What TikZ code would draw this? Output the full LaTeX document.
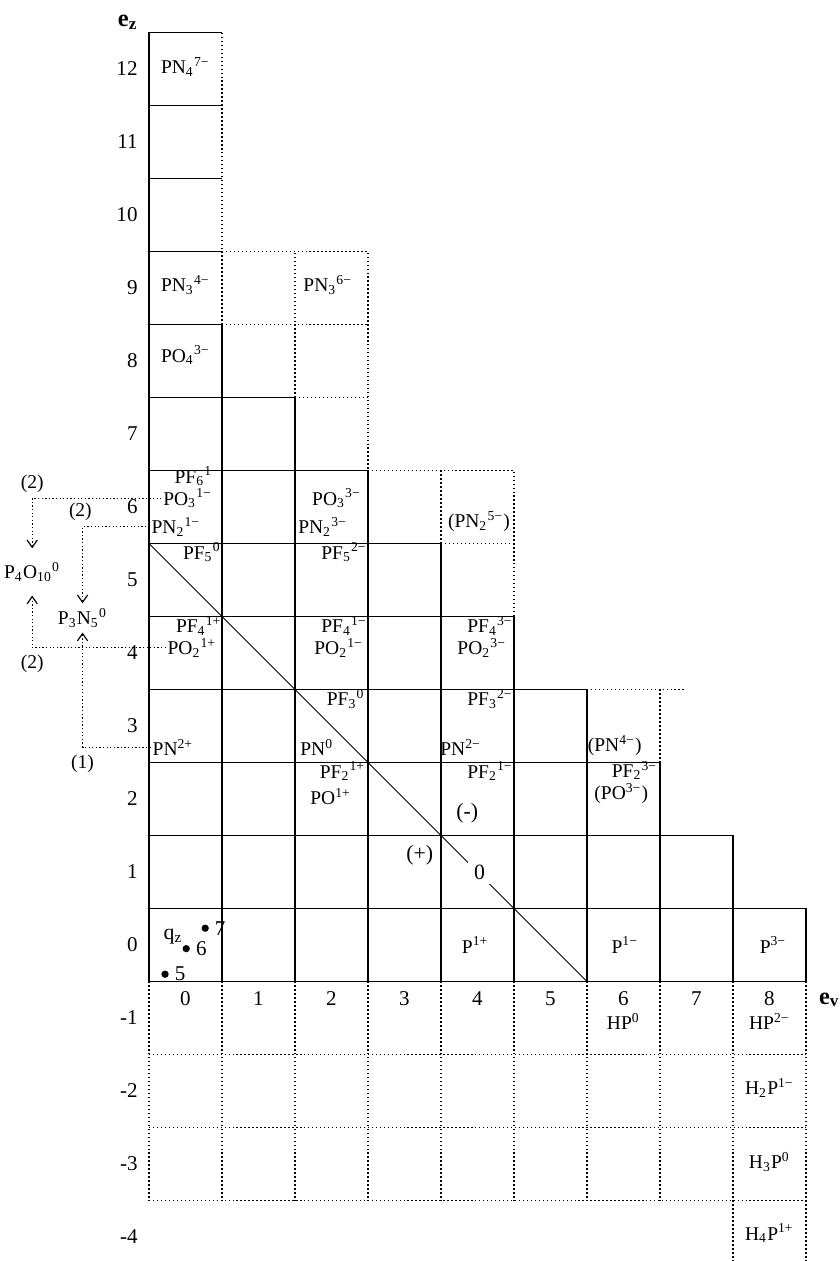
\documentclass[tikz,border=0pt]{standalone}
\usepackage{fontspec}
\setmainfont{Liberation Serif}
\usetikzlibrary{arrows.meta, positioning}

\begin{document}
\begin{tikzpicture}[
  >={Straight Barb[length=1mm,width=1.4mm]},
  % grid line styles
  cell/.style={line width=0.5pt},
  open/.style={line width=0.5pt, dash pattern=on 0.55pt off 1pt},
  link/.style={line width=0.45pt, dash pattern=on 0.5pt off 0.9pt, ->},
  % text styles
  ion/.style={font=\fontsize{7.6}{8}\selectfont, inner sep=0.5pt},
  ionr/.style={ion, anchor=east},
  route/.style={font=\fontsize{7.6}{8}\selectfont, inner sep=1pt},
  tick/.style={font=\fontsize{8.2}{9}\selectfont, inner sep=0pt},
  axis/.style={font=\fontsize{9.5}{10}\selectfont\bfseries, inner sep=0pt},
  sign/.style={font=\fontsize{8.5}{9}\selectfont, inner sep=0pt},
  dot/.style={circle, fill=black, inner sep=0pt, minimum size=1mm}
]
\useasboundingbox (-2.541,-4.329) rectangle (8.966,12.945);

% Solid staircase of cells
\foreach \i in {0,...,8}
  \draw[cell] (\i+0.5,-0.5) -- (\i+0.5,8.5-\i);
\foreach \j in {0,...,7}
  \draw[cell] (-0.5,\j+0.5) -- (8.5-\j,\j+0.5);
\foreach \j in {8,...,12}
  \draw[cell] (-0.5,\j+0.5) -- (0.5,\j+0.5);
\draw[cell] (-0.5,-0.5) -- (-0.5,12.5);
\draw[cell] (-0.5,-0.5) -- (8.5,-0.5);

% Dotted (open) cells
\draw[open] (0.5,8.5) -- (0.5,12.5);
\draw[open] (0.5,9.5) -- (2.5,9.5) -- (2.5,6.5);
\draw[open] (0.5,8.5) -- (2.5,8.5);
\draw[open] (1.5,7.5) -- (1.5,9.5);
\draw[open] (1.5,7.5) -- (2.5,7.5);
\draw[open] (2.5,6.5) -- (4.5,6.5) -- (4.5,4.5);
\draw[open] (3.5,5.5) -- (3.5,6.5);
\draw[open] (3.5,5.5) -- (4.5,5.5);
\draw[open] (5.5,3.5) -- (6.84,3.5);
\draw[open] (6.5,2.5) -- (6.5,3.5);
\foreach \j in {-1.5,-2.5,-3.5}
  \draw[open] (-0.5,\j) -- (8.5,\j);
\foreach \i in {-0.5,0.5,...,8.5}
  \draw[open] (\i,-0.5) -- (\i,-3.5);
\draw[open] (7.5,-3.5) -- (7.5,-4.33);
\draw[open] (8.5,-3.5) -- (8.5,-4.33);

% Neutral diagonal
\draw[line width=0.4pt] (-0.5,5.5) -- (5.5,-0.5);
\node[sign, fill=white, minimum width=0.32cm, minimum height=0.32cm] (zero) at (4.03,1) {0};
\node[sign] (plus) at (3.21,1.23) {(+)};
\node[sign] (minus) at (3.86,1.81) {(-)};

% Axes
\foreach \k in {-4,...,12}
  \node[tick, anchor=east] (ez\k) at (-0.65,\k) {\k};
\foreach \i in {0,...,8}
  \node[tick] (ev\i) at (\i,-0.74) {\i};
\node[axis] (ezlab) at (-0.79,12.64) {e\textsubscript{z}};
\node[axis] (evlab) at (8.82,-0.75) {e\textsubscript{v}};

% Column 0
\node[ion] (pn4) at (0,12.03) {PN\textsubscript{4}\textsuperscript{7−}};
\node[ion] (pn3a) at (0,9.04) {PN\textsubscript{3}\textsuperscript{4−}};
\node[ion] (po4) at (0,8.08) {PO\textsubscript{4}\textsuperscript{3−}};
\node[ionr] (pf6) at (0.5,6.42) {PF\textsubscript{6}\textsuperscript{1−}};
\node[ion] (po3a) at (0.03,6.12) {PO\textsubscript{3}\textsuperscript{1−}};
\node[ion] (pn2a) at (-0.13,5.73) {PN\textsubscript{2}\textsuperscript{1−}};
\node[ionr] (pf5a) at (0.51,5.38) {PF\textsubscript{5}\textsuperscript{0}};
\node[ionr] (pf4a) at (0.52,4.37) {PF\textsubscript{4}\textsuperscript{1+}};
\node[ion] (po2a) at (0.09,4.07) {PO\textsubscript{2}\textsuperscript{1+}};
\node[ion] (pn2p) at (-0.17,2.71) {PN\textsuperscript{2+}};

% Column 2
\node[ion] (pn3b) at (1.95,9.04) {PN\textsubscript{3}\textsuperscript{6−}};
\node[ion] (po3b) at (2.07,6.12) {PO\textsubscript{3}\textsuperscript{3−}};
\node[ion] (pn2b) at (1.88,5.73) {PN\textsubscript{2}\textsuperscript{3−}};
\node[ionr] (pf5b) at (2.51,5.38) {PF\textsubscript{5}\textsuperscript{2−}};
\node[ionr] (pf4b) at (2.51,4.37) {PF\textsubscript{4}\textsuperscript{1−}};
\node[ion] (po2b) at (2.1,4.07) {PO\textsubscript{2}\textsuperscript{1−}};
\node[ionr] (pf3a) at (2.48,3.37) {PF\textsubscript{3}\textsuperscript{0}};
\node[ion] (pn0) at (1.8,2.71) {PN\textsuperscript{0}};
\node[ionr] (pf2a) at (2.49,2.38) {PF\textsubscript{2}\textsuperscript{1+}};
\node[ion] (po1p) at (1.99,2.03) {PO\textsuperscript{1+}};

% Column 4
\node[ion] (pn2c) at (4.02,5.8) {(PN\textsubscript{2}\textsuperscript{5−})};
\node[ionr] (pf4c) at (4.51,4.37) {PF\textsubscript{4}\textsuperscript{3−}};
\node[ion] (po2c) at (4.06,4.07) {PO\textsubscript{2}\textsuperscript{3−}};
\node[ionr] (pf3b) at (4.51,3.37) {PF\textsubscript{3}\textsuperscript{2−}};
\node[ion] (pn2m) at (3.77,2.71) {PN\textsuperscript{2−}};
\node[ionr] (pf2b) at (4.51,2.38) {PF\textsubscript{2}\textsuperscript{1−}};
\node[ion] (p1p) at (3.97,0) {P\textsuperscript{1+}};

% Column 6 and 8
\node[ion] (pn4m) at (5.88,2.73) {(PN\textsuperscript{4−})};
\node[ionr] (pf2c) at (6.49,2.39) {PF\textsubscript{2}\textsuperscript{3−}};
\node[ion] (po3m) at (5.97,2.07) {(PO\textsuperscript{3−})};
\node[ion] (p1m) at (6.02,0) {P\textsuperscript{1−}};
\node[ion] (hp0) at (6,-1.05) {HP\textsuperscript{0}};
\node[ion] (p3m) at (8.05,0) {P\textsuperscript{3−}};
\node[ion] (hp2m) at (8,-1.05) {HP\textsuperscript{2−}};
\node[ion] (h2p) at (8,-1.96) {H\textsubscript{2}P\textsuperscript{1−}};
\node[ion] (h3p) at (8,-2.97) {H\textsubscript{3}P\textsuperscript{0}};
\node[ion] (h4p) at (8,-3.95) {H\textsubscript{4}P\textsuperscript{1+}};

% q_z points
\node[sign] (qz) at (-0.17,0.11) {q\textsubscript{z}};
\node[dot] (d7) at (0.27,0.23) {};
\node[dot] (d6) at (0.01,-0.05) {};
\node[dot] (d5) at (-0.28,-0.40) {};
\node[tick, right=0.7mm of d7] (n7) {7};
\node[tick, right=0.7mm of d6] (n6) {6};
\node[tick, right=0.7mm of d5] (n5) {5};

% Solids
\node[ion, outer ysep=5pt] (p4o10) at (-2.1,5.11) {P\textsubscript{4}O\textsubscript{10}\textsuperscript{0}};
\node[ion, outer ysep=1.5pt] (p3n5) at (-1.41,4.48) {P\textsubscript{3}N\textsubscript{5}\textsuperscript{0}};

% Condensation routes
\draw[link] (po3a.west) -| (p4o10.north);
\draw[link] (pn2a.west) -| (p3n5.north);
\draw[link] (po2a.west) -| (p4o10.south);
\draw[link] (pn2p.west) -| (p3n5.south);
\coordinate (k1) at (p4o10.north |- po3a.west);
\coordinate (k2) at (p3n5.north |- pn2a.west);
\coordinate (k3) at (p4o10.south |- po2a.west);
\coordinate (k4) at (p3n5.south |- pn2p.west);
\node[route, above=0.4mm of k1] (r1) {(2)};
\node[route, above=0.4mm of k2, xshift=-0.3mm] (r2) {(2)};
\node[route, below=0.6mm of k3] (r3) {(2)};
\node[route, below=0.6mm of k4] (r4) {(1)};

\end{tikzpicture}
\end{document}
